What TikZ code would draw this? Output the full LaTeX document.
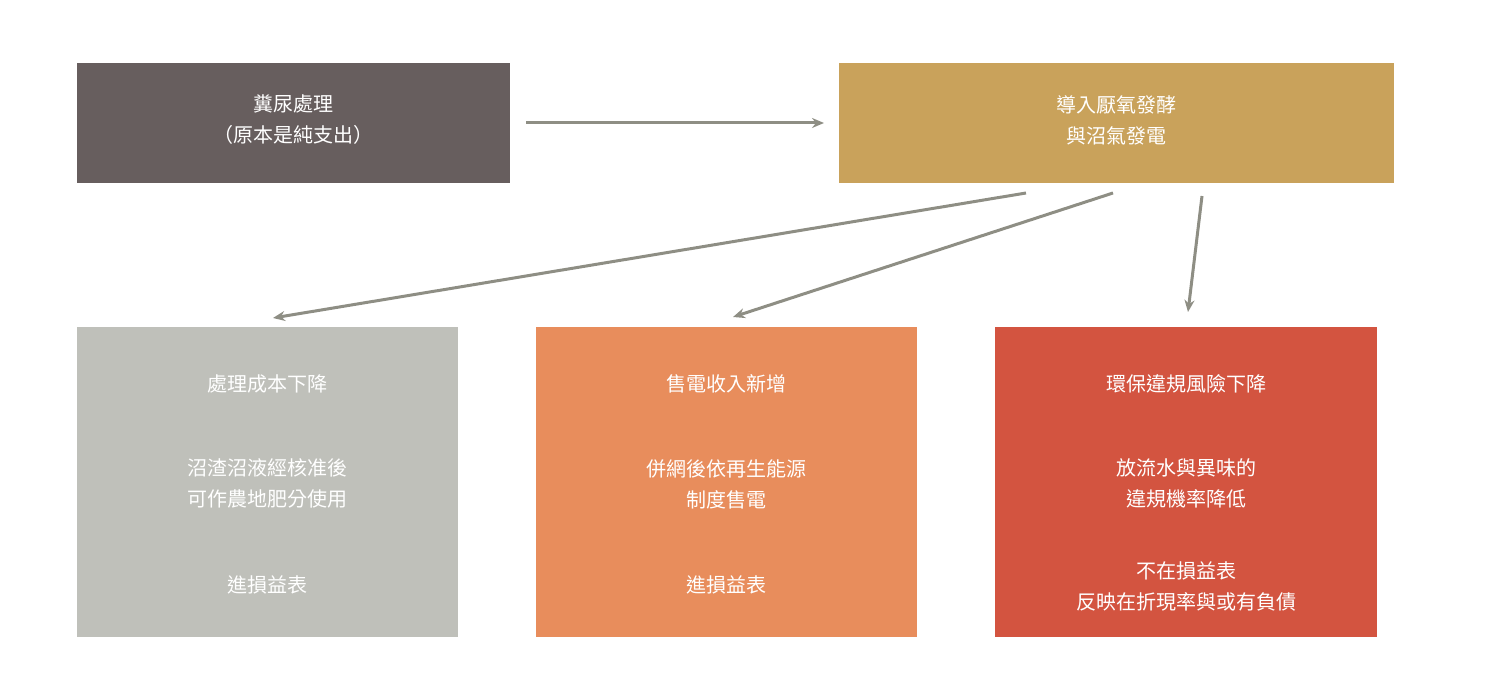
\documentclass[tikz,border=0pt]{standalone}
\usepackage{fontspec}
\setmainfont{Noto Sans CJK TC}
\usetikzlibrary{arrows.meta}
\definecolor{cA}{HTML}{675E5E}
\definecolor{cB}{HTML}{C9A25B}
\definecolor{cC}{HTML}{BFC0BA}
\definecolor{cD}{HTML}{E88D5C}
\definecolor{cE}{HTML}{D35440}
\definecolor{arr}{HTML}{8E8E84}
\begin{document}
\begin{tikzpicture}[x=0.5pt,y=-0.5pt,
 box/.style={draw=none,anchor=north west,inner sep=0pt},
 txt/.style={text=white,align=center,font=\fontsize{10}{15.5}\selectfont},
 con/.style={draw=arr,line width=1.5pt,-{Stealth[length=6pt,width=5pt]}}]
\useasboundingbox (0,0) rectangle (1487,688);
\fill[cA] (77,63) rectangle (510,183);
\fill[cB] (839,63) rectangle (1394,183);
\fill[cC] (77,327) rectangle (458,637);
\fill[cD] (536,327) rectangle (917,637);
\fill[cE] (995,327) rectangle (1377,637);
\node[txt] (ta) at (293.5,120) {糞尿處理\\（原本是純支出）};
\node[txt] (tb) at (1116.5,120) {導入厭氧發酵\\與沼氣發電};
\node[txt] (c1) at (267.5,384) {處理成本下降};
\node[txt] (c2) at (267.5,483) {沼渣沼液經核准後\\可作農地肥分使用};
\node[txt] (c3) at (267.5,585) {進損益表};
\node[txt] (d1) at (726.5,384) {售電收入新增};
\node[txt] (d2) at (726.5,484) {併網後依再生能源\\制度售電};
\node[txt] (d3) at (726.5,585) {進損益表};
\node[txt] (e1) at (1186,384) {環保違規風險下降};
\node[txt] (e2) at (1186,483) {放流水與異味的\\違規機率降低};
\node[txt] (e3) at (1186,586) {不在損益表\\反映在折現率與或有負債};
\coordinate (a0) at (526,123); \coordinate (b0) at (824,123);
\coordinate (b1) at (1026,193); \coordinate (cc) at (273,318);
\coordinate (b2) at (1113,193); \coordinate (dd) at (733,317);
\coordinate (b3) at (1202,196); \coordinate (ee) at (1188,312);
\draw[con] (a0) -- (b0);
\draw[con] (b1) -- (cc);
\draw[con] (b2) -- (dd);
\draw[con] (b3) -- (ee);
\end{tikzpicture}
\end{document}
